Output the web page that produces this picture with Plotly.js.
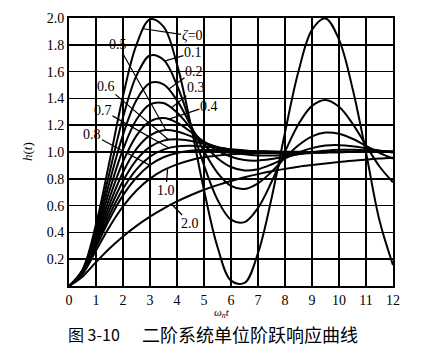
<!DOCTYPE html>
<html><head><meta charset="utf-8">
<script src="https://cdn.plot.ly/plotly-3.0.1.min.js"></script>
<style>html,body{margin:0;padding:0;background:#fff;}#chart{width:422px;height:353px;}</style>
</head><body><div id="chart"></div>
<script>
// omega_n * t sample points
const wt = [0,0.5,1,1.5,2,2.5,3,3.5,4,4.5,5,5.5,6,6.5,7,7.5,8,8.5,9,9.5,10,10.5,11,11.5,12];
// h(t) read for each damping ratio
const z0_0 = [0,0.122,0.460,0.929,1.416,1.801,1.990,1.936,1.654,1.211,0.716,0.291,0.040,0.023,0.246,0.653,1.146,1.602,1.911,1.997,1.839,1.476,0.996,0.488,0.156];
const z0_1 = [0,0.118,0.431,0.846,1.258,1.570,1.720,1.688,1.498,1.211,0.901,0.644,0.495,0.477,0.583,0.776,1.003,1.207,1.344,1.388,1.337,1.212,1.050,0.892,0.774];
const z0_2 = [0,0.115,0.405,0.775,1.128,1.388,1.515,1.505,1.385,1.201,1.006,0.845,0.747,0.724,0.766,0.852,0.956,1.050,1.117,1.145,1.136,1.099,1.046,0.993,0.951];
const z0_3 = [0,0.111,0.381,0.713,1.019,1.242,1.355,1.365,1.294,1.180,1.057,0.954,0.888,0.862,0.872,0.907,0.952,0.996,1.029,1.048,1.051,1.043,1.028,1.011,0.996];
const z0_4 = [0,0.108,0.360,0.658,0.927,1.122,1.228,1.253,1.219,1.152,1.076,1.010,0.964,0.940,0.936,0.947,0.964,0.983,1.000,1.010,1.016,1.016,1.013,1.008,1.004];
const z0_5 = [0,0.104,0.340,0.610,0.849,1.023,1.124,1.162,1.153,1.118,1.075,1.034,1.002,0.983,0.974,0.974,0.979,0.986,0.993,0.998,1.002,1.004,1.004,1.004,1.003];
const z0_6 = [0,0.101,0.322,0.568,0.783,0.941,1.038,1.085,1.095,1.083,1.061,1.038,1.018,1.004,0.995,0.992,0.991,0.992,0.995,0.997,0.999,1.000,1.001,1.001,1.001];
const z0_7 = [0,0.098,0.306,0.531,0.726,0.871,0.965,1.018,1.042,1.046,1.040,1.030,1.020,1.011,1.005,1.001,0.999,0.998,0.998,0.999,0.999,1.000,1.000,1.000,1.000];
const z0_8 = [0,0.095,0.291,0.498,0.676,0.810,0.903,0.961,0.993,1.009,1.015,1.015,1.012,1.009,1.006,1.004,1.002,1.001,1.000,1.000,1.000,1.000,1.000,1.000,1.000];
const z1_0 = [0,0.090,0.264,0.442,0.594,0.713,0.801,0.864,0.908,0.939,0.960,0.973,0.983,0.989,0.993,0.995,0.997,0.998,0.999,0.999,1.000,1.000,1.000,1.000,1.000];
const z2_0 = [0,0.070,0.178,0.280,0.370,0.449,0.518,0.578,0.631,0.677,0.718,0.753,0.784,0.811,0.835,0.856,0.874,0.890,0.903,0.915,0.926,0.935,0.943,0.951,0.957];
const seriesList = [z0_0,z0_1,z0_2,z0_3,z0_4,z0_5,z0_6,z0_7,z0_8,z1_0,z2_0];
const yTickVals = [0.2,0.4,0.6,0.8,1.0,1.2,1.4,1.6,1.8,2.0];
const yTickText = ['0.2','0.4','0.6','0.8','1.0','1.2','1.4','1.6','1.8','2.0'];
const xTickVals = [0,1,2,3,4,5,6,7,8,9,10,11,12];

const traces = seriesList.map(s => ({
  x: wt, y: s, type: 'scatter', mode: 'lines',
  line: {color: '#000', width: 2, shape: 'spline', smoothing: 1},
  hoverinfo: 'skip', showlegend: false
}));

const serif = "'Liberation Serif', 'Times New Roman', serif";
function lab(text, x, y, ax, ay) {
  return {text: text, x: x, y: y, ax: ax, ay: ay, xref: 'x', yref: 'y', axref: 'x', ayref: 'y',
    showarrow: true, arrowhead: 0, arrowwidth: 1.2, arrowcolor: '#000', standoff: 0,
    font: {family: serif, size: 14, color: '#000'}, borderpad: 0};
}
const annotations = [
  lab('<i>ζ</i>=0', 2.75, 1.92, 4.56, 1.866),
  lab('0.1', 3.56, 1.68, 4.59, 1.739),
  lab('0.2', 3.7, 1.47, 4.63, 1.604),
  lab('0.3', 3.8, 1.33, 4.70, 1.478),
  lab('0.4', 3.7, 1.245, 5.18, 1.343),
  lab('0.5', 3.6, 1.16, 1.81, 1.80),
  lab('0.6', 3.7, 1.09, 1.37, 1.49),
  lab('0.7', 3.7, 1.03, 1.26, 1.31),
  lab('0.8', 3.0, 0.90, 0.87, 1.13),
  lab('1.0', 3.65, 0.87, 3.59, 0.716),
  lab('2.0', 3.8, 0.61, 4.48, 0.47),
  {text: '<i>h</i>(<i>t</i>)', xref: 'paper', yref: 'paper', x: -0.1296, y: 0.5, textangle: -90,
   xanchor: 'center', yanchor: 'middle',
   showarrow: false, font: {family: serif, size: 13, color: '#000'}},
  {text: '<i>ω<sub>n</sub>t</i>', xref: 'paper', yref: 'paper', x: 0.472, y: -0.1007,
   xanchor: 'center', yanchor: 'middle',
   showarrow: false, font: {family: serif, size: 11, color: '#000'}},
  {text: '图 3-10', xref: 'paper', yref: 'paper', x: -0.0093, y: -0.179, xanchor: 'left', yanchor: 'middle',
   showarrow: false, font: {family: 'Noto Sans CJK SC, serif', size: 16, color: '#000'}},
  {text: '二阶系统单位阶跃响应曲线', xref: 'paper', yref: 'paper', x: 0.219, y: -0.179, xanchor: 'left', yanchor: 'middle',
   showarrow: false, font: {family: 'Noto Sans CJK SC', size: 18, color: '#000'}}
];

const layout = {
  width: 422, height: 353,
  margin: {l: 69, r: 29, t: 18, b: 67},
  paper_bgcolor: '#fff', plot_bgcolor: '#fff',
  showlegend: false,
  xaxis: {range: [0, 12], tickvals: xTickVals, showgrid: true, gridcolor: '#000', gridwidth: 1.5,
    zeroline: false, showline: true, linecolor: '#000', linewidth: 2, mirror: true, ticks: '',
    tickfont: {family: serif, size: 14, color: '#000'}, fixedrange: true},
  yaxis: {range: [0, 2], tickvals: yTickVals, ticktext: yTickText, showgrid: true, gridcolor: '#000', gridwidth: 1.5,
    zeroline: false, showline: true, linecolor: '#000', linewidth: 2, mirror: true, ticks: '',
    tickfont: {family: serif, size: 14, color: '#000'}, fixedrange: true},
  annotations: annotations
};
Plotly.newPlot('chart', traces, layout, {staticPlot: true, displayModeBar: false});
</script></body></html>
